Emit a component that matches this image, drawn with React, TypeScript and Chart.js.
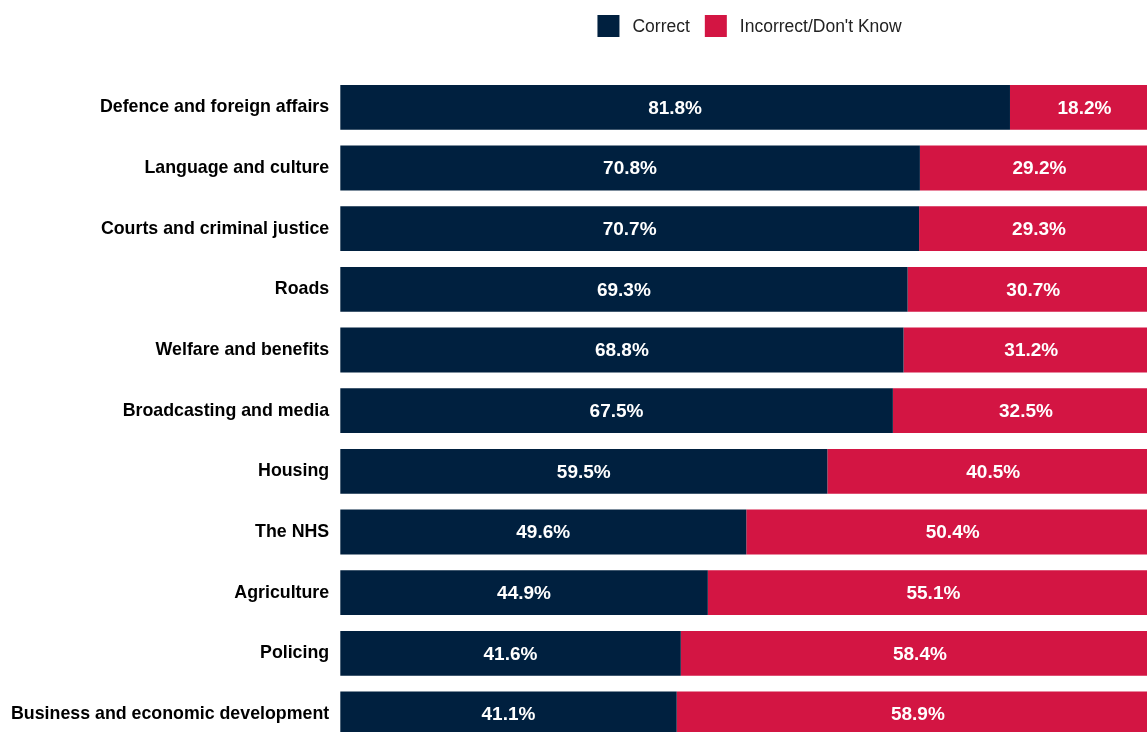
import React, { useEffect, useRef } from "react";
import { Chart, registerables } from "chart.js";

Chart.register(...registerables);

const categories = [
  "Defence and foreign affairs",
  "Language and culture",
  "Courts and criminal justice",
  "Roads",
  "Welfare and benefits",
  "Broadcasting and media",
  "Housing",
  "The NHS",
  "Agriculture",
  "Policing",
  "Business and economic development",
];
const correct = [81.8, 70.8, 70.7, 69.3, 68.8, 67.5, 59.5, 49.6, 44.9, 41.6, 41.1];
const incorrect = [18.2, 29.2, 29.3, 30.7, 31.2, 32.5, 40.5, 50.4, 55.1, 58.4, 58.9];
const seriesNames = ["Correct", "Incorrect/Don't Know"];
const colors = ["#00203F", "#D31543"];

const FONT = "'Liberation Sans', Arial, sans-serif";

const valueLabels = {
  id: "valueLabels",
  afterDatasetsDraw(chart: any) {
    const ctx = chart.ctx;
    ctx.save();
    ctx.fillStyle = "#ffffff";
    ctx.font = `bold 19px ${FONT}`;
    ctx.textAlign = "center";
    ctx.textBaseline = "middle";
    chart.data.datasets.forEach((ds: any, di: number) => {
      const meta = chart.getDatasetMeta(di);
      meta.data.forEach((bar: any, i: number) => {
        const x = (bar.x + bar.base) / 2;
        ctx.fillText(ds.data[i].toFixed(1) + "%", x, bar.y + 1);
      });
    });
    ctx.restore();
  },
};

const customLegend = {
  id: "customLegend",
  afterDraw(chart: any) {
    const ctx = chart.ctx;
    const area = chart.chartArea;
    ctx.save();
    ctx.font = `17.5px ${FONT}`;
    const box = 22;
    const gapBoxText = 13;
    const gapItems = 15;
    const widths = seriesNames.map((n) => box + gapBoxText + ctx.measureText(n).width);
    const total = widths.reduce((a, b) => a + b, 0) + gapItems * (seriesNames.length - 1);
    let x = (area.left + area.right) / 2 - total / 2;
    const y = 26;
    seriesNames.forEach((n, i) => {
      ctx.fillStyle = colors[i];
      ctx.fillRect(x, y - box / 2, box, box);
      ctx.fillStyle = "#222222";
      ctx.textAlign = "left";
      ctx.textBaseline = "middle";
      ctx.fillText(n, x + box + gapBoxText, y + 1);
      x += widths[i] + gapItems;
    });
    ctx.restore();
  },
};

export default function App() {
  const ref = useRef<HTMLCanvasElement>(null);
  useEffect(() => {
    const chart = new Chart(ref.current!, {
      type: "bar",
      data: {
        labels: categories,
        datasets: [
          { label: seriesNames[0], data: correct, backgroundColor: colors[0], barPercentage: 0.74, categoryPercentage: 1 },
          { label: seriesNames[1], data: incorrect, backgroundColor: colors[1], barPercentage: 0.74, categoryPercentage: 1 },
        ],
      },
      options: {
        indexAxis: "y",
        responsive: false,
        animation: false,
        layout: { padding: { top: 77, right: 0, bottom: 0, left: 0 } },
        plugins: {
          legend: { display: false },
          tooltip: { enabled: false },
        },
        scales: {
          x: {
            stacked: true,
            min: 0,
            max: 100,
            display: false,
          },
          y: {
            stacked: true,
            grid: { display: false, drawTicks: false },
            border: { display: false },
            ticks: {
              color: "#000000",
              font: { family: FONT, size: 17.8, weight: "bold" },
              padding: 11,
            },
          },
        },
      },
      plugins: [valueLabels, customLegend],
    });
    return () => chart.destroy();
  }, []);
  return (
    <div style={{ position: "fixed", left: 0, top: 0, width: 1147, height: 732, overflow: "hidden", background: "#fff" }}>
      <canvas ref={ref} width={1159} height={766} style={{ display: "block" }} />
    </div>
  );
}
